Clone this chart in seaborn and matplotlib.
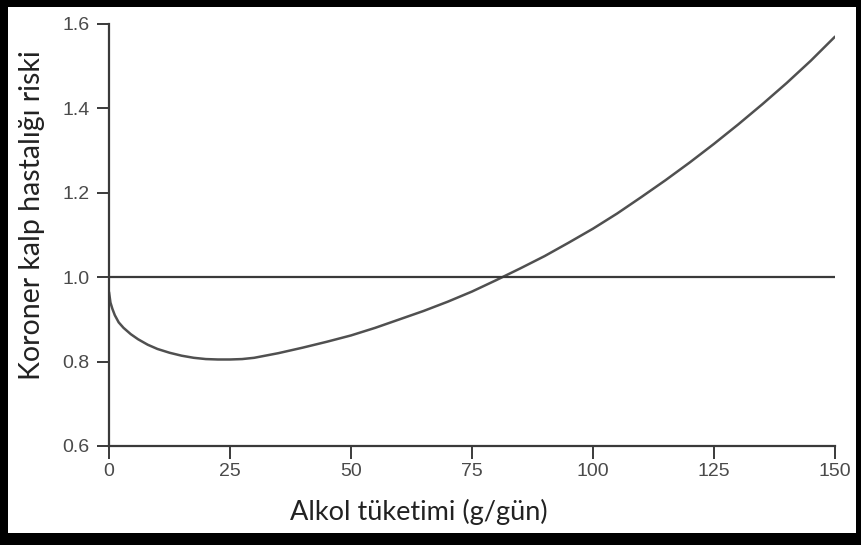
import numpy as np
import pandas as pd
import seaborn as sns
import matplotlib.pyplot as plt
from matplotlib.patches import Rectangle

# Data
alcohol = [0, 0.3, 0.7, 1.2, 2, 3, 4.5, 6, 8, 10, 12.5, 15, 17.5, 20, 22.5,
           25, 27.5, 30, 35, 40, 45, 50, 55, 60, 65, 70, 75, 80, 85, 90, 95,
           100, 105, 110, 115, 120, 125, 130, 135, 140, 145, 150]
risk = [0.965, 0.94, 0.925, 0.91, 0.893, 0.88, 0.865, 0.853, 0.84, 0.83,
        0.821, 0.814, 0.809, 0.806, 0.805, 0.805, 0.806, 0.809, 0.82, 0.833,
        0.847, 0.862, 0.88, 0.9, 0.92, 0.942, 0.966, 0.993, 1.021, 1.05, 1.082,
        1.115, 1.151, 1.19, 1.23, 1.272, 1.316, 1.362, 1.41, 1.46, 1.513, 1.57]
reference_level = 1.0
x_ticks = [0, 25, 50, 75, 100, 125, 150]
y_ticks = [0.6, 0.8, 1.0, 1.2, 1.4, 1.6]

df = pd.DataFrame({"alkol": alcohol, "risk": risk})

sns.set_style("ticks")
plt.rcParams['font.family'] = ['Liberation Sans', 'DejaVu Sans']

fig = plt.figure(figsize=(8.61, 5.45), dpi=100)
# black frame around the picture
fig.patch.set_facecolor('black')
fig.patches.append(Rectangle((8 / 861, 12 / 545), 848 / 861, 526 / 545,
                             transform=fig.transFigure, facecolor='white',
                             edgecolor='none', zorder=-5))

ax = fig.add_axes([109 / 861, 1 - 446 / 545, 726 / 861, 422 / 545])
ax.set_zorder(2)
ax.set_facecolor('white')

sns.lineplot(data=df, x="alkol", y="risk", ax=ax, color='#505050',
             linewidth=1.8, clip_on=True)
ax.axhline(reference_level, color='#3a3a3a', linewidth=1.6)

ax.set_xlim(0, 150)
ax.set_ylim(0.6, 1.6)
ax.set_xticks(x_ticks)
ax.set_yticks(y_ticks)
ax.set_yticklabels([f"{v:.1f}" for v in y_ticks])

for side in ['top', 'right']:
    ax.spines[side].set_visible(False)
for side in ['left', 'bottom']:
    ax.spines[side].set_color('#3a3a3a')
    ax.spines[side].set_linewidth(1.6)

ax.tick_params(axis='both', direction='out', length=9, width=1.4,
               color='#3a3a3a', labelsize=14, labelcolor='#4a4a4a')
ax.tick_params(axis='y', pad=5)
ax.tick_params(axis='x', pad=3)

ax.set_xlabel("Alkol tüketimi (g/gün)", fontsize=19.5, color='#222222',
              family=['Lato', 'DejaVu Sans'])
ax.set_ylabel("Koroner kalp hastalığı riski", fontsize=20.5, color='#222222',
              family=['Lato', 'DejaVu Sans'])
ax.xaxis.set_label_coords(0.427, -0.156)
ax.yaxis.set_label_coords(-0.106, 0.547)
ax.xaxis.label.set_va('center')
ax.yaxis.label.set_va('center')

fig.savefig("out.png", dpi=100, facecolor=fig.get_facecolor())
